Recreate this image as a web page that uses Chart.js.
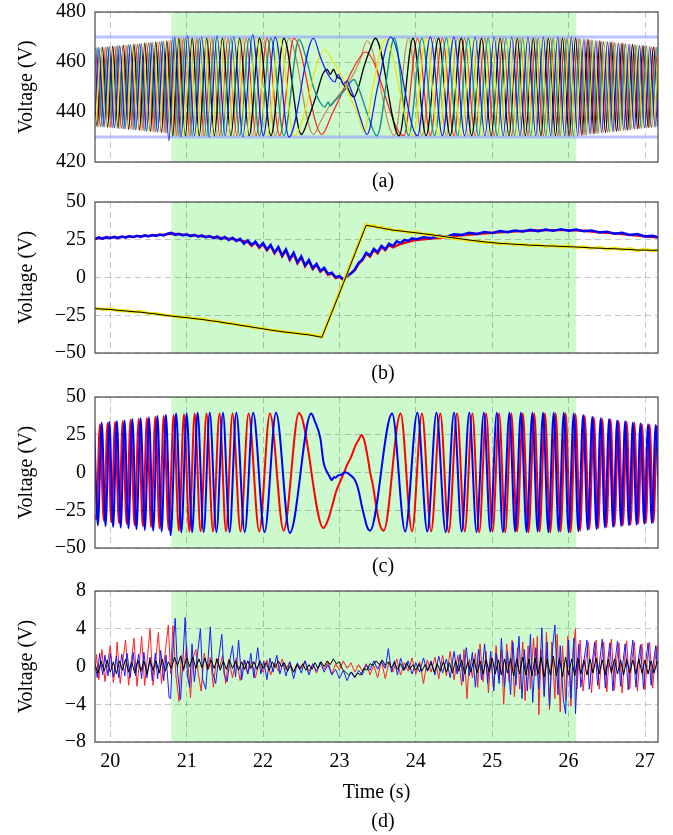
<!DOCTYPE html>
<html>
<head>
<meta charset="utf-8">
<script src="https://cdn.jsdelivr.net/npm/chart.js@4/dist/chart.umd.min.js"></script>
<style>
  body { margin: 0; background: #fff; width: 673px; height: 835px; position: relative; overflow: hidden; }
  .plot { position: absolute; left: 0; }
  .cap { position: absolute; width: 100px; left: 333px; text-align: center; font: 20px 'Liberation Serif', serif; line-height: 24px; color: #000; }
</style>
</head>
<body>
<div class="plot" style="top:-2px"><canvas id="ca" width="673" height="178"></canvas></div>
<div class="plot" style="top:188px"><canvas id="cb" width="673" height="179"></canvas></div>
<div class="plot" style="top:383px"><canvas id="cc" width="673" height="179"></canvas></div>
<div class="plot" style="top:577px"><canvas id="cd" width="673" height="233"></canvas></div>
<div class="cap" style="top:168px">(a)</div>
<div class="cap" style="top:360px">(b)</div>
<div class="cap" style="top:553px">(c)</div>
<div class="cap" style="top:808px">(d)</div>
<script>
// time axis and shaded interval (s)
const timeRange = [19.8, 27.17];
const shadeSpan = [20.8, 26.1];
const timeTicks = [20, 21, 22, 23, 24, 25, 26, 27];
const aTicks = [420, 440, 460, 480];
const bcTicks = [-50, -25, 0, 25, 50];
const dTicks = [-8, -4, 0, 4, 8];
const limitLevels = [430, 470];

// (a) six voltages, [time, V] at turning points
const aTeal = [[19.76,434.5],[19.828,465.7],[19.896,434.1],[19.964,466.1],[20.032,433.7],[20.101,466.5],[20.170,433.3],[20.240,466.9],[20.310,432.9],[20.381,467.3],[20.452,432.4],[20.524,467.8],[20.596,432.0],[20.669,468.2],[20.742,431.6],[20.818,469.5],[20.898,430.5],[20.983,469.5],[21.072,430.5],[21.165,469.5],[21.262,430.5],[21.363,469.5],[21.468,430.5],[21.578,469.5],[21.694,430.5],[21.818,469.5],[21.953,430.5],[22.103,469.5],[22.273,430.5],[22.47,469],
  [22.56,462],[22.66,450],[22.75,443.7],[22.81,442],[22.85,444],[22.88,442.5],[22.94,444.5],[23.02,447],[23.10,450],[23.19,453],[23.23,451],[23.27,448],[23.38,438],[23.49,430.5],
  [23.72,469.5],[23.905,430.5],[24.08,469.5],[24.245,430.5],[24.40,469.5],[24.547,430.5],[24.687,469.5],[24.82,430.5],[24.946,469.5],[25.066,430.5],[25.181,469.5],[25.292,430.5],[25.399,469.5],[25.503,430.5],[25.604,469.5],[25.702,430.5],[25.797,469.5],[25.889,430.5],[25.978,469.5],[26.064,430.5],[26.147,469.3],[26.228,430.8],[26.307,468.8],[26.384,431.5],[26.459,468.2],[26.532,432.0],[26.604,467.8],[26.675,432.5],[26.745,467.3],[26.814,433.0],[26.882,466.8],[26.95,433.5],[27.018,466.4],[27.086,433.9],[27.154,465.8],[27.222,434.4]];
const aBlack = [[19.76,465.5],[19.828,434.3],[19.896,465.9],[19.964,433.9],[20.032,466.3],[20.101,433.5],[20.170,466.7],[20.240,433.1],[20.310,467.1],[20.381,432.7],[20.452,467.6],[20.524,432.2],[20.596,468.0],[20.669,431.8],[20.742,468.4],[20.818,430.5],[20.898,469.5],[20.983,430.5],[21.072,469.5],[21.165,430.5],[21.262,469.5],[21.363,430.5],[21.468,469.5],[21.578,430.5],[21.694,469.5],[21.818,430.5],[21.953,469.5],[22.103,430.5],[22.273,469.5],
  [22.50,431],[22.6,438],[22.7,447],[22.78,455],[22.84,457],[22.88,455],[22.92,457],[22.97,454],[23.02,453],[23.05,451],[23.10,450],[23.15,447],[23.19,446],[23.25,450],[23.32,458],[23.40,465],[23.47,469.5],
  [23.782,430.5],[23.963,469.5],[24.135,430.5],[24.297,469.5],[24.449,430.5],[24.594,469.5],[24.731,430.5],[24.862,469.5],[24.986,430.5],[25.104,469.5],[25.218,430.5],[25.328,469.5],[25.434,430.5],[25.537,469.5],[25.637,430.5],[25.734,469.5],[25.828,430.5],[25.919,469.5],[26.007,430.5],[26.092,469.5],[26.174,430.7],[26.254,469.0],[26.333,431.3],[26.409,468.4],[26.483,431.8],[26.556,468.0],[26.628,432.3],[26.698,467.5],[26.768,432.8],[26.837,467.0],[26.905,433.3],[26.973,466.6],[27.041,433.8],[27.109,466.0],[27.177,434.2]];
const aBrown = [[19.715,434.6],[19.783,465.6],[19.851,434.2],[19.919,466.0],[19.987,433.8],[20.055,466.4],[20.124,433.4],[20.193,466.8],[20.263,433.0],[20.334,467.2],[20.405,432.6],[20.476,467.7],[20.548,432.1],[20.620,468.1],[20.693,431.7],[20.767,468.6],[20.845,430.5],[20.926,469.5],[21.013,430.5],[21.103,469.5],[21.197,430.5],[21.296,469.5],[21.398,430.5],[21.505,469.5],[21.617,430.5],[21.735,469.5],[21.863,430.5],[22.003,469.5],[22.160,430.5],[22.339,469.5],
  [22.66,431],[22.75,436],[22.84,441],[22.97,446],[23.10,451],[23.2,456],[23.27,461],[23.36,468.5],
  [23.72,430.5],[23.905,469.5],[24.08,430.5],[24.245,469.5],[24.40,430.5],[24.547,469.5],[24.687,430.5],[24.82,469.5],[24.946,430.5],[25.066,469.5],[25.181,430.5],[25.292,469.5],[25.399,430.5],[25.503,469.5],[25.604,430.5],[25.702,469.5],[25.797,430.5],[25.889,469.5],[25.978,430.5],[26.064,469.5],[26.147,430.7],[26.228,469.2],[26.307,431.2],[26.384,468.5],[26.459,431.8],[26.532,468.0],[26.604,432.2],[26.675,467.5],[26.745,432.7],[26.814,467.0],[26.882,433.2],[26.95,466.5],[27.018,433.6],[27.086,466.1],[27.154,434.2],[27.222,465.6]];
const aBlue = [[19.715,465.4],[19.783,434.4],[19.851,465.8],[19.919,434.0],[19.987,466.2],[20.055,433.6],[20.124,466.6],[20.193,433.2],[20.263,467.0],[20.334,432.8],[20.405,467.4],[20.476,432.3],[20.548,467.9],[20.620,431.9],[20.693,468.3],[20.767,428.5],[20.845,470],[20.926,430],[21.013,470.5],[21.103,430.5],[21.197,470],[21.296,430],[21.398,470.5],[21.505,430.5],[21.617,470],[21.735,430],[21.863,471],[22.003,430.5],[22.160,470],[22.339,430],
  [22.66,469.5],[22.75,462],[22.85,455],[22.94,452],[22.98,455],[23.02,453],[23.05,451],[23.10,452.5],[23.15,449],[23.2,445],[23.28,437],[23.36,431],[23.5,450],[23.67,470],
  [24.022,430.5],[24.19,470],[24.348,430.5],[24.498,470],[24.64,430.5],[24.776,470],[24.904,430.5],[25.026,470],[25.143,430.5],[25.255,470],[25.363,430.5],[25.468,470],[25.57,430.5],[25.669,470],[25.765,430.5],[25.858,470],[25.948,430.5],[26.035,470],[26.119,430.5],[26.201,469.2],[26.281,431.1],[26.358,468.6],[26.434,431.7],[26.508,468.1],[26.58,432.1],[26.651,467.6],[26.722,432.6],[26.791,467.2],[26.859,433.1],[26.927,466.6],[26.995,433.6],[27.063,466.2],[27.131,434.0],[27.199,465.6]];
const aRed = [[19.737,434.5],[19.805,465.6],[19.873,434.2],[19.941,466.0],[20.009,433.8],[20.078,466.4],[20.147,433.4],[20.217,466.8],[20.287,433.0],[20.357,467.2],[20.428,432.6],[20.500,467.7],[20.572,432.1],[20.645,468.1],[20.718,431.7],[20.793,468.8],[20.871,430.5],[20.955,469.5],[21.042,430.5],[21.134,469.5],[21.230,430.5],[21.329,469.5],[21.433,430.5],[21.541,469.5],[21.655,430.5],[21.777,469.5],[21.908,430.5],[22.053,469.5],[22.216,430.5],[22.404,469.5],
  [22.77,431],[22.9,439],[23.01,446],[23.14,455],[23.27,462],[23.34,464],
  [23.843,430.5],[24.022,469.5],[24.19,430.5],[24.348,469.5],[24.498,430.5],[24.64,469.5],[24.776,430.5],[24.904,469.5],[25.026,430.5],[25.143,469.5],[25.255,430.5],[25.363,469.5],[25.468,430.5],[25.57,469.5],[25.669,430.5],[25.765,469.5],[25.858,430.5],[25.948,469.5],[26.035,430.5],[26.119,469.5],[26.201,430.8],[26.281,468.9],[26.358,431.4],[26.434,468.3],[26.508,431.9],[26.58,467.9],[26.651,432.4],[26.722,467.4],[26.791,432.8],[26.859,466.9],[26.927,433.4],[26.995,466.4],[27.063,433.8],[27.131,465.9],[27.199,434.4]];
const aYellow = [[19.737,465.5],[19.805,434.4],[19.873,465.8],[19.941,434.0],[20.009,466.2],[20.078,433.6],[20.147,466.6],[20.217,433.2],[20.287,467.0],[20.357,432.8],[20.428,467.4],[20.500,432.3],[20.572,467.9],[20.645,431.9],[20.718,468.3],[20.793,431.0],[20.871,469.5],[20.955,430.5],[21.042,469.5],[21.134,430.5],[21.230,469.5],[21.329,430.5],[21.433,469.5],[21.541,430.5],[21.655,469.5],[21.777,430.5],[21.908,469.5],[22.053,430.5],[22.216,469.5],[22.404,430.5],
  [22.81,465],[22.9,461],[23.05,453],[23.15,445],[23.23,440],[23.32,432],[23.45,452],[23.60,469],
  [23.963,430.5],[24.135,469.5],[24.297,430.5],[24.449,469.5],[24.594,430.5],[24.731,469.5],[24.862,430.5],[24.986,469.5],[25.104,430.5],[25.218,469.5],[25.328,430.5],[25.434,469.5],[25.537,430.5],[25.637,469.5],[25.734,430.5],[25.828,469.5],[25.919,430.5],[26.007,469.5],[26.092,430.5],[26.174,469.3],[26.254,431.0],[26.333,468.7],[26.409,431.6],[26.483,468.2],[26.556,432.0],[26.628,467.7],[26.698,432.5],[26.768,467.2],[26.837,433.0],[26.905,466.7],[26.973,433.4],[27.041,466.2],[27.109,434.0],[27.177,465.8]];

// (b)
const bBlue = [[19.80,25.5],[19.85,26.6],[19.90,25.6],[19.95,26.8],[20.00,26.0],[20.05,27.0],[20.10,26.1],[20.15,27.2],[20.20,26.4],[20.25,27.4],[20.30,26.6],[20.35,27.7],[20.40,26.9],[20.45,27.9],[20.50,27.2],[20.55,28.2],[20.60,27.5],[20.65,28.5],[20.70,27.9],[20.75,29.0],[20.80,29.6],[20.85,28.2],[20.90,28.9],[20.95,27.8],[21.00,28.6],[21.05,27.4],[21.10,28.3],[21.15,27.0],[21.20,27.9],[21.25,26.6],[21.30,27.5],[21.35,26.1],[21.40,27.2],[21.45,25.4],[21.50,26.8],[21.55,24.8],[21.60,26.4],[21.65,24.2],[21.70,25.6],[21.75,22.4],[21.80,24.6],[21.85,21.6],[21.90,23.8],[21.95,20.2],[22.00,22.8],[22.05,18.6],[22.10,21.6],[22.15,16.6],[22.20,20.2],[22.25,14.6],[22.30,18.6],[22.35,12.2],[22.40,16.4],[22.45,10.0],[22.50,14.0],[22.55,8.0],[22.60,11.6],[22.65,6.2],[22.70,9.0],[22.75,4.4],[22.80,6.4],[22.85,2.4],[22.90,3.2],[22.95,0.2],[23.00,1.0],[23.05,-1.2],[23.10,1.2],[23.15,2.6],[23.20,5.2],[23.25,9.6],[23.30,12.0],[23.35,16.4],[23.40,14.6],[23.45,19.0],[23.50,16.8],[23.55,21.0],[23.60,18.8],[23.65,22.4],[23.70,20.8],[23.75,24.0],[23.80,22.8],[23.85,25.0],[23.90,24.2],[23.95,26.0],[24.00,25.2],[24.1,26.6],[24.2,26.0],[24.3,27.6],[24.4,27.0],[24.5,28.6],[24.6,28.2],[24.7,29.6],[24.8,28.8],[24.9,30.2],[25.0,29.4],[25.1,30.8],[25.2,30.0],[25.3,31.2],[25.4,30.4],[25.5,31.6],[25.6,30.6],[25.7,31.8],[25.8,30.9],[25.9,32.0],[26.0,31.0],[26.1,31.8],[26.2,30.6],[26.3,31.2],[26.4,29.8],[26.5,30.4],[26.6,29.0],[26.7,29.6],[26.8,28.2],[26.9,28.8],[27.0,27.2],[27.1,27.6],[27.2,26.2]];
const bRed = [[19.8,25.8],[19.9,26.2],[20.0,26.4],[20.1,26.6],[20.2,26.9],[20.3,27.1],[20.4,27.4],[20.5,27.6],[20.6,28.0],[20.7,28.4],[20.8,29.0],[20.9,28.6],[21.0,28.2],[21.1,27.7],[21.2,27.3],[21.3,26.9],[21.4,26.5],[21.5,26.0],[21.6,25.4],[21.7,24.6],[21.8,23.6],[21.85,21.0],[21.9,23.2],[21.95,19.6],[22.0,22.2],[22.05,18.0],[22.1,21.0],[22.15,16.0],[22.2,19.6],[22.25,14.0],[22.3,18.0],[22.35,11.6],[22.4,15.8],[22.45,9.4],[22.5,13.4],[22.55,7.4],[22.6,11.0],[22.65,5.6],[22.7,8.4],[22.75,3.8],[22.8,5.8],[22.85,1.8],[22.9,2.6],[22.95,-0.4],[23.0,0.4],[23.05,-1.6],[23.1,0.8],[23.2,4.6],[23.25,9.0],[23.3,11.4],[23.35,15.8],[23.4,13.8],[23.45,18.2],[23.5,16.0],[23.55,20.2],[23.6,18.0],[23.65,21.6],[23.7,20.0],[23.8,22.2],[23.9,23.6],[24.0,24.8],[24.2,25.8],[24.4,26.8],[24.6,28.0],[24.8,28.8],[25.0,29.6],[25.2,30.2],[25.4,30.8],[25.6,31.2],[25.8,31.4],[26.0,31.4],[26.2,31.0],[26.4,30.0],[26.6,29.2],[26.8,28.2],[27.0,27.2],[27.2,26.4]];
const bYellow = [[19.8,-20.2],[19.9,-21.2],[20.0,-20.8],[20.1,-22.0],[20.2,-21.8],[20.3,-22.8],[20.4,-22.6],[20.5,-23.8],[20.6,-23.8],[20.7,-25.0],[20.8,-25.2],[20.9,-26.4],[21.0,-26.2],[21.1,-27.4],[21.2,-27.4],[21.3,-28.8],[21.4,-28.8],[21.5,-30.2],[21.6,-30.4],[21.7,-31.8],[21.8,-32.0],[21.9,-33.4],[22.0,-33.6],[22.1,-35.0],[22.2,-35.2],[22.3,-36.2],[22.4,-36.4],[22.5,-37.4],[22.6,-37.6],[22.7,-38.6],[22.77,-39.4],
  [22.9,-22.7],[23.05,-3.4],[23.2,15.9],[23.35,35.2],[23.4,33.8],[23.45,34.6],[23.5,32.8],[23.55,33.6],[23.6,31.8],[23.65,32.6],[23.7,31.0],[23.8,31.2],[23.9,29.8],[24.0,30.0],[24.1,28.6],[24.2,28.6],[24.3,27.2],[24.4,27.0],[24.5,25.8],[24.6,25.4],[24.7,24.4],[24.8,24.2],[24.9,23.2],[25.0,23.2],[25.1,22.2],[25.2,22.6],[25.3,21.6],[25.4,22.0],[25.5,21.0],[25.6,21.6],[25.7,20.6],[25.8,21.2],[25.9,20.2],[26.0,20.8],[26.1,19.8],[26.2,20.4],[26.3,19.2],[26.4,20.0],[26.5,18.8],[26.6,19.6],[26.7,18.4],[26.8,19.2],[26.9,17.8],[27.0,18.8],[27.1,17.6],[27.2,18.4]];
const bBlack = [[19.8,-20.6],[20.0,-21.2],[20.2,-22.2],[20.4,-23.0],[20.6,-24.2],[20.8,-25.6],[21.0,-26.6],[21.2,-27.8],[21.4,-29.2],[21.6,-30.8],[21.8,-32.4],[22.0,-34.0],[22.2,-35.6],[22.4,-36.8],[22.6,-38.0],[22.77,-39.6],[22.9,-23.2],[23.05,-4.0],[23.2,15.4],[23.35,34.6],[23.5,33.2],[23.7,31.4],[23.9,30.2],[24.1,29.0],[24.3,27.6],[24.5,26.2],[24.7,24.8],[24.9,23.6],[25.1,22.6],[25.3,22.0],[25.5,21.4],[25.7,21.0],[25.9,20.6],[26.1,20.2],[26.3,19.6],[26.5,19.2],[26.7,18.8],[26.9,18.2],[27.1,18.0],[27.2,18.0]];

// (c)
const cRed = [[19.8,-28],[19.815,-31],[19.865,32],[19.915,-32],[19.965,33],[20.014,-33],[20.063,33.5],[20.113,-33.5],[20.163,34],[20.214,-34],[20.265,35],[20.318,-35],[20.372,35.5],[20.426,-35.5],[20.48,36],[20.535,-36],[20.59,37],[20.645,-37],[20.70,37.5],[20.765,-38],[20.83,38],[20.898,-38.5],[20.965,38.5],[21.035,-39],[21.105,39],[21.182,-39],[21.26,39],[21.345,-39],[21.43,39],[21.515,-39],[21.60,39],[21.705,-39],[21.81,39],[21.95,-39],[22.09,39],[22.27,-38.5],[22.47,39.4],[22.79,-36.8],
  [22.86,-30],[22.92,-19.3],[22.96,-12],[23.01,-6],[23.06,0],[23.10,5],[23.15,10],[23.21,18],[23.25,21.5],[23.29,24.8],[23.32,22],[23.34,18],[23.37,10],[23.40,0.6],[23.44,-9],[23.47,-19],[23.53,-34.8],[23.58,-38.5],
  [23.80,39],[23.95,-39],[24.08,39],[24.20,-39],[24.32,39],[24.43,-39.5],[24.54,39],[24.64,-39],[24.74,39],[24.83,-39.5],[24.92,39],[25.005,-39],[25.09,39],[25.17,-39.5],[25.25,39],[25.325,-39],[25.40,39],[25.475,-39.5],[25.55,39],[25.62,-39],[25.69,39],[25.76,-39.5],[25.83,39],[25.895,-39],[25.96,39],[26.025,-39.5],[26.09,38.5],[26.15,-38.5],[26.21,37.5],[26.27,-37.5],[26.33,36.5],[26.385,-37],[26.44,35.5],[26.495,-36],[26.55,35],[26.60,-35.5],[26.655,34],[26.71,-35],[26.76,33.5],[26.81,-34.5],[26.86,33],[26.91,-34],[26.96,32],[27.01,-33.5],[27.06,31.5],[27.11,-33],[27.16,31],[27.21,-32.5]];
const cBlue = [[19.788,32.5],[19.838,-35],[19.888,33],[19.938,-35.5],[19.988,33.5],[20.037,-36],[20.086,34],[20.136,-36.5],[20.186,34.5],[20.238,-37],[20.289,35.5],[20.343,-37.5],[20.397,36],[20.452,-38],[20.506,36.5],[20.562,-38.5],[20.617,37.5],[20.672,-39],[20.728,38],[20.79,-41.5],[20.862,39],[20.93,-39.5],[21.0,39],[21.072,-39.5],[21.143,39.5],[21.222,-39.5],[21.302,39.5],[21.39,-39.5],[21.475,39.5],[21.562,-39.5],[21.65,39.5],[21.76,-39.5],[21.87,39.5],[22.02,-39.5],[22.17,39.5],[22.35,-40],[22.63,39],
  [22.68,33.7],[22.75,22.6],[22.79,7.2],[22.83,1],[22.86,-1.7],[22.90,-5],[22.93,-3],[22.95,-3.4],[22.98,-2],[23.01,-1.7],[23.05,-0.5],[23.08,0.1],[23.11,-0.5],[23.14,-1.7],[23.19,-4],[23.23,-8.3],[23.26,-14],[23.29,-21.5],[23.33,-30],[23.36,-35.9],[23.40,-38.5],
  [23.69,39],[23.86,-39],[24.02,39.5],[24.15,-39],[24.27,39.5],[24.39,-39.5],[24.50,39.5],[24.60,-39],[24.70,39.5],[24.795,-39.5],[24.89,39.5],[24.975,-39],[25.06,39.5],[25.14,-39.5],[25.225,39.5],[25.30,-39],[25.375,39.5],[25.45,-39.5],[25.525,39.5],[25.595,-39],[25.665,39.5],[25.735,-39.5],[25.805,39.5],[25.87,-39],[25.937,39.5],[26.0,-39.5],[26.067,39],[26.128,-39],[26.19,38],[26.25,-38],[26.31,37],[26.365,-37.5],[26.42,36],[26.475,-36.5],[26.53,35.5],[26.583,-36],[26.635,34.5],[26.688,-35.5],[26.74,34],[26.79,-35],[26.84,33],[26.89,-34.5],[26.94,32.5],[26.99,-34],[27.04,32],[27.09,-33.5],[27.14,31.5],[27.19,-33]];

// (d)
const dRed = [[19.80,-0.5],[19.82,1.3],[19.85,-1.4],[19.89,1.8],[19.93,-1.6],[19.96,0.2],[20.00,2.2],[20.04,-1.7],[20.07,0.1],[20.09,2.6],[20.13,-1.8],[20.16,0.3],[20.20,2.8],[20.24,-2.0],[20.27,0.2],[20.31,3.0],[20.35,-2.1],[20.38,0.3],[20.41,3.2],[20.45,-2.0],[20.48,0.4],[20.52,4.0],[20.56,-2.0],[20.59,0.3],[20.63,3.6],[20.67,-1.8],[20.70,0.2],[20.76,4.4],[20.79,-0.8],[20.82,4.3],[20.86,-1.0],[20.90,-3.7],[20.93,1.2],[20.96,-0.5],[21.00,2.2],[21.05,-3.3],[21.08,0.8],[21.12,1.8],[21.15,-0.6],[21.19,-2.6],[21.23,1.4],[21.27,-0.4],[21.31,1.0],[21.35,-2.2],[21.39,0.9],[21.43,-0.2],[21.47,1.2],[21.51,-1.8],[21.55,0.8],[21.60,-1.2],[21.65,0.9],[21.70,-1.5],[21.75,0.7],[21.80,-0.8],[21.85,0.6],[21.90,-1.2],[21.95,0.5],[22.00,-0.6],[22.05,0.7],[22.10,-0.9],[22.15,0.4],[22.20,-0.5],[22.25,0.8],[22.30,-0.3],[22.35,0.5],[22.40,-0.6],[22.45,0.3],[22.50,-0.2],[22.55,0.6],[22.60,-0.5],[22.65,0.2],[22.70,-0.7],[22.75,0.4],[22.80,-0.3],[22.85,0.5],[22.90,-0.8],[22.95,0.3],[23.00,-0.4],[23.05,0.6],[23.10,-0.2],[23.15,0.4],[23.20,-0.6],[23.25,0.2],[23.30,-0.5],[23.35,0.3],[23.40,-0.9],[23.45,0.1],[23.50,-1.2],[23.55,0.6],[23.60,-1.3],[23.65,0.5],[23.70,-0.6],[23.75,0.8],[23.80,-0.9],[23.85,0.4],[23.90,-0.5],[23.95,0.9],[24.00,-0.8],[24.05,0.5],[24.10,-1.8],[24.15,0.7],[24.20,-0.6],[24.25,1.0],[24.30,-1.3],[24.35,1.2],[24.40,-1.0],[24.45,1.6],[24.50,-1.4],[24.55,1.2],[24.60,-2.0],[24.63,1.8],[24.67,-3.4],[24.70,0.8],[24.74,-1.2],[24.78,1.4],[24.81,-2.2],[24.84,2.4],[24.88,-1.6],[24.92,1.6],[24.95,-2.8],[24.98,1.0],[25.02,-2.2],[25.05,2.2],[25.09,-1.4],[25.12,1.8],[25.15,-4.0],[25.19,2.4],[25.22,-1.6],[25.26,2.8],[25.29,-3.2],[25.33,2.0],[25.36,-2.4],[25.40,2.6],[25.43,-3.6],[25.47,2.2],[25.50,-2.4],[25.54,3.0],[25.57,-1.0],[25.59,3.2],[25.61,-5.1],[25.64,1.8],[25.68,-3.0],[25.71,3.6],[25.75,-4.6],[25.78,2.6],[25.82,-3.4],[25.85,3.4],[25.89,-4.8],[25.92,2.2],[25.96,-3.6],[25.99,3.2],[26.03,-4.2],[26.06,2.0],[26.09,4.0],[26.11,-2.4],
  [26.15,2.8],[26.19,-2.6],[26.23,1.0],[26.26,2.6],[26.30,-2.8],[26.33,0.8],[26.36,2.8],[26.40,-2.4],[26.43,0.6],[26.46,2.6],[26.50,-2.7],[26.53,0.9],[26.56,2.9],[26.60,-2.5],[26.63,0.7],[26.66,2.5],[26.70,-2.8],[26.73,0.6],[26.76,2.7],[26.80,-2.4],[26.83,0.8],[26.86,2.6],[26.90,-2.6],[26.93,0.5],[26.96,2.4],[27.00,-2.5],[27.03,0.7],[27.06,2.6],[27.10,-2.3],[27.13,0.6],[27.16,2.2],[27.2,-1.5]];
const dBlue = [[19.80,0.4],[19.83,-1.2],[19.86,1.4],[19.90,-0.9],[19.93,1.2],[19.97,-1.0],[20.00,1.4],[20.04,-1.1],[20.08,1.1],[20.11,-1.2],[20.15,1.3],[20.19,-1.0],[20.22,1.4],[20.26,-1.2],[20.30,1.5],[20.33,-1.0],[20.37,1.3],[20.41,-1.3],[20.44,1.5],[20.48,-1.2],[20.52,1.0],[20.55,-1.5],[20.59,1.4],[20.62,-1.3],[20.66,1.7],[20.70,-1.5],[20.73,1.2],[20.77,-3.3],[20.79,-3.4],[20.81,0.5],[20.85,5.1],[20.88,-0.5],[20.92,-3.5],[20.95,0.6],[20.98,5.2],[21.01,-1.0],[21.04,-2.2],[21.07,2.4],[21.10,-1.6],[21.14,1.2],[21.18,4.0],[21.21,-1.4],[21.25,-2.4],[21.28,0.8],[21.31,4.2],[21.34,-0.6],[21.38,-1.8],[21.42,1.0],[21.46,3.4],[21.49,-0.8],[21.53,-1.6],[21.57,0.9],[21.60,2.2],[21.64,-1.1],[21.68,2.8],[21.72,-1.4],[21.76,0.7],[21.80,-0.8],[21.84,1.4],[21.88,-1.2],[21.93,2.0],[21.97,-0.8],[22.01,0.6],[22.05,-1.4],[22.09,0.9],[22.13,-0.6],[22.18,1.2],[22.22,-0.8],[22.26,0.4],[22.30,-1.0],[22.35,0.5],[22.40,-1.3],[22.45,0.4],[22.50,-0.7],[22.55,0.6],[22.60,-0.9],[22.65,0.3],[22.70,-0.5],[22.75,0.5],[22.80,-0.6],[22.85,0.2],[22.90,-0.9],[22.95,-0.3],[23.00,-1.3],[23.05,-0.4],[23.10,-1.5],[23.15,-0.6],[23.20,-1.2],[23.25,-0.4],[23.30,-0.9],[23.35,0.2],[23.40,-0.4],[23.45,0.6],[23.50,-0.3],[23.55,0.5],[23.60,-0.2],[23.64,1.9],[23.68,-0.6],[23.72,0.6],[23.76,-0.9],[23.80,0.9],[23.85,-0.4],[23.90,0.6],[23.95,-0.8],[24.00,0.4],[24.05,-0.6],[24.10,0.9],[24.15,-0.5],[24.20,0.6],[24.25,-0.9],[24.30,1.1],[24.35,-0.7],[24.40,0.8],[24.45,-1.2],[24.50,1.6],[24.54,-0.8],[24.58,1.3],[24.62,-1.6],[24.66,2.0],[24.70,-1.0],[24.74,1.5],[24.78,-2.2],[24.82,1.8],[24.86,-1.4],[24.90,2.4],[24.94,-1.8],[24.98,1.6],[25.02,-2.6],[25.05,1.4],[25.09,-1.8],[25.12,3.0],[25.16,-2.2],[25.20,1.6],[25.24,-3.0],[25.27,2.6],[25.31,-2.0],[25.35,3.2],[25.39,-3.4],[25.42,1.8],[25.46,-2.6],[25.50,3.4],[25.53,-3.8],[25.57,2.0],[25.61,-2.4],[25.65,4.1],[25.68,-3.2],[25.72,2.6],[25.75,-4.2],[25.79,2.0],[25.82,4.4],[25.86,-3.0],[25.89,2.2],[25.93,-3.4],[25.96,-5.0],[26.00,2.8],[26.03,-3.4],[26.07,3.0],[26.09,-5.0],
  [26.13,2.4],[26.16,-2.2],[26.20,0.6],[26.24,2.8],[26.27,-2.4],[26.31,0.4],[26.34,2.6],[26.38,-2.0],[26.41,0.8],[26.44,2.9],[26.48,-2.3],[26.51,0.5],[26.54,2.5],[26.58,-2.6],[26.61,0.7],[26.64,2.7],[26.68,-2.1],[26.71,0.4],[26.74,2.4],[26.78,-2.5],[26.81,0.6],[26.84,2.8],[26.88,-2.2],[26.91,0.5],[26.94,2.3],[26.98,-2.4],[27.01,0.6],[27.04,2.5],[27.08,-2.0],[27.11,0.4],[27.14,2.2],[27.18,-2.6]];
const dBlack = [[19.80,0.2],[19.84,-0.7],[19.88,0.6],[19.92,-0.5],[19.96,0.7],[20.00,-0.6],[20.04,0.5],[20.08,-0.8],[20.12,0.6],[20.16,-0.4],[20.20,0.8],[20.24,-0.6],[20.28,0.5],[20.32,-0.7],[20.36,0.7],[20.40,-0.5],[20.44,0.6],[20.48,-0.8],[20.52,0.7],[20.56,-0.4],[20.60,0.6],[20.64,-0.7],[20.68,0.8],[20.72,-0.5],[20.76,0.5],[20.80,-0.2],[20.84,1.0],[20.88,0.1],[20.92,1.1],[20.96,-0.3],[21.00,0.9],[21.04,0.0],[21.08,1.0],[21.12,-0.2],[21.16,0.8],[21.20,-0.1],[21.24,0.9],[21.28,-0.3],[21.32,0.7],[21.36,-0.2],[21.40,0.8],[21.44,-0.4],[21.48,0.6],[21.52,-0.3],[21.56,0.7],[21.60,-0.2],[21.64,0.6],[21.68,-0.4],[21.72,0.5],[21.76,-0.3],[21.80,0.6],[21.84,-0.2],[21.88,0.5],[21.92,-0.3],[21.96,0.6],[22.00,-0.2],[22.04,0.4],[22.08,-0.4],[22.12,0.5],[22.16,-0.1],[22.20,0.6],[22.24,0.0],[22.28,0.4],[22.32,-0.5],[22.36,0.1],[22.40,-0.6],[22.44,0.2],[22.48,-0.3],[22.52,0.3],[22.56,-0.4],[22.60,0.2],[22.64,-0.3],[22.68,0.4],[22.72,-0.2],[22.76,0.5],[22.80,0.0],[22.84,0.6],[22.88,0.2],[22.92,0.8],[22.96,0.3],[23.00,0.5],[23.04,-0.3],[23.08,-0.6],[23.12,-0.9],[23.16,-0.6],[23.20,-1.1],[23.24,-0.7],[23.28,-0.9],[23.32,-0.2],[23.36,-0.4],[23.40,0.3],[23.44,0.1],[23.48,0.6],[23.52,0.2],[23.56,0.7],[23.60,0.1],[23.64,0.5],[23.68,-0.1],[23.72,0.4],[23.76,-0.3],[23.80,0.3],[23.84,-0.4],[23.88,0.4],[23.92,-0.3],[23.96,0.2],[24.00,-0.4],[24.04,0.3],[24.08,-0.5],[24.12,0.2],[24.16,-0.4],[24.20,0.4],[24.24,-0.6],[24.28,0.3],[24.32,-0.5],[24.36,0.5],[24.40,-0.6],[24.44,0.4],[24.48,-0.7],[24.52,0.6],[24.56,-0.5],[24.60,0.7],[24.64,-0.8],[24.68,0.5],[24.72,-0.6],[24.76,0.8],[24.80,-0.7],[24.84,0.6],[24.88,-0.8],[24.92,0.7],[24.96,-0.6],[25.00,0.9],[25.04,-0.8],[25.08,0.7],[25.12,-0.9],[25.16,0.8],[25.20,-0.7],[25.24,0.9],[25.28,-1.0],[25.32,0.8],[25.36,-0.8],[25.40,1.0],[25.44,-0.9],[25.48,0.8],[25.52,-1.0],[25.56,0.9],[25.60,-0.8],[25.64,1.0],[25.68,-1.1],[25.72,0.8],[25.76,-0.9],[25.80,1.1],[25.84,-1.0],[25.88,0.9],[25.92,-1.1],[25.96,1.0],[26.00,-0.9],[26.04,0.8],[26.08,-1.0],[26.12,0.9],[26.16,-0.8],[26.20,0.7],[26.24,-0.9],[26.28,0.8],[26.32,-0.7],[26.36,0.9],[26.40,-0.8],[26.44,0.7],[26.48,-0.9],[26.52,0.8],[26.56,-0.7],[26.60,0.8],[26.64,-0.8],[26.68,0.7],[26.72,-0.9],[26.76,0.8],[26.80,-0.7],[26.84,0.7],[26.88,-0.8],[26.92,0.8],[26.96,-0.7],[27.00,0.7],[27.04,-0.8],[27.08,0.6],[27.12,-0.7],[27.16,0.6],[27.20,-0.5]];

const SERIF = "'Liberation Serif', 'DejaVu Serif', serif";
Chart.defaults.font.family = SERIF;
Chart.defaults.font.size = 20;
Chart.defaults.color = '#000';

const shadeAndFrame = {
  id: 'shadeAndFrame',
  beforeDraw(chart) {
    const { ctx, chartArea: a, scales: { x } } = chart;
    const x0 = x.getPixelForValue(shadeSpan[0]);
    const x1 = x.getPixelForValue(shadeSpan[1]);
    ctx.save();
    ctx.fillStyle = '#ccfacc';
    ctx.fillRect(x0, a.top, x1 - x0, a.bottom - a.top);
    ctx.restore();
  },
  afterDraw(chart) {
    const { ctx, chartArea: a } = chart;
    ctx.save();
    ctx.strokeStyle = '#4a4a4a';
    ctx.lineWidth = 1.2;
    ctx.strokeRect(a.left, a.top, a.right - a.left, a.bottom - a.top);
    ctx.restore();
  }
};

function line(data, color, width, smooth) {
  return {
    data: data.map(p => ({ x: p[0], y: p[1] })),
    borderColor: color,
    borderWidth: width,
    pointRadius: 0,
    fill: false,
    tension: 0,
    cubicInterpolationMode: smooth ? 'monotone' : 'default',
    clip: 0
  };
}

const minus = v => String(v).replace('-', '\u2212');

function makePlot(id, datasets, yTicks, showX) {
  new Chart(document.getElementById(id), {
    type: 'line',
    data: { datasets },
    options: {
      responsive: false,
      animation: false,
      events: [],
      layout: { padding: { top: 14, bottom: showX ? 0 : 14, left: 0, right: 15 } },
      plugins: { legend: { display: false }, tooltip: { enabled: false } },
      scales: {
        x: {
          type: 'linear',
          min: timeRange[0],
          max: timeRange[1],
          afterBuildTicks: s => { s.ticks = timeTicks.map(v => ({ value: v })); },
          afterFit: s => { s.height = showX ? 68 : 0; s.paddingLeft = 0; s.paddingRight = 0; },
          ticks: { display: showX, padding: 8, maxRotation: 0 },
          grid: { color: 'rgba(0,0,0,0.22)', drawTicks: false },
          border: { display: false, dash: [6, 4] },
          title: { display: showX, text: 'Time (s)', padding: { top: 0, bottom: 5 } }
        },
        y: {
          min: yTicks[0],
          max: yTicks[yTicks.length - 1],
          afterBuildTicks: s => { s.ticks = yTicks.map(v => ({ value: v })); },
          afterFit: s => { s.width = 95; s.paddingTop = 0; s.paddingBottom = 0; },
          ticks: { padding: 9, callback: minus },
          grid: { color: 'rgba(0,0,0,0.22)', drawTicks: false },
          border: { display: false, dash: [6, 4] },
          title: { display: true, text: 'Voltage (V)', padding: { top: 15, bottom: 0 } }
        }
      }
    },
    plugins: [shadeAndFrame]
  });
}

const limitSets = limitLevels.map(v =>
  line([[timeRange[0], v], [timeRange[1], v]], 'rgba(150,160,255,0.65)', 3, false));

makePlot('ca', [
  line(aBlue, '#1414ff', 1.2, true),
  line(aYellow, '#f2e000', 1.2, true),
  line(aTeal, '#13908a', 1.4, true),
  line(aBlack, '#000000', 1.3, true),
  line(aRed, '#ff1a1a', 1.2, true),
  line(aBrown, '#c48a52', 1.2, true),
  ...limitSets
], aTicks, false);

makePlot('cb', [
  line(bBlack, '#000000', 1, false),
  line(bYellow, '#f5e400', 3, false),
  line(bBlue, '#0000ff', 2.4, false),
  line(bRed, '#ff0000', 2.4, false)
], bcTicks, false);

makePlot('cc', [
  line(cBlue, '#0000ff', 2, true),
  line(cRed, '#ff0000', 2, true)
], bcTicks, false);

makePlot('cd', [
  line(dBlack, '#000000', 1, false),
  line(dBlue, '#1a1aff', 1, false),
  line(dRed, '#ff2020', 1, false)
], dTicks, true);
</script>
</body>
</html>
